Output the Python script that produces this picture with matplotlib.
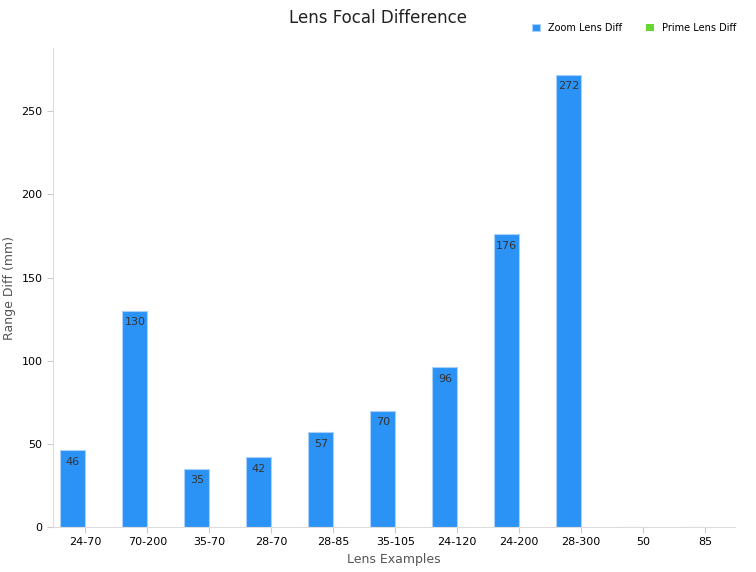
import matplotlib
matplotlib.use("Agg")
import matplotlib.pyplot as plt
import numpy as np

categories = ["24-70", "70-200", "35-70", "28-70", "28-85", "35-105", "24-120", "24-200", "28-300", "50", "85"]
zoom_diff = [46, 130, 35, 42, 57, 70, 96, 176, 272, 0, 0]
prime_diff = [0, 0, 0, 0, 0, 0, 0, 0, 0, 0, 0]

fig = plt.figure(figsize=(7.56, 5.72), dpi=100)
ax = fig.add_axes([53/756, 45/572, 682/756, 479/572])
x = np.arange(len(categories))
w = 0.4
zb = ax.bar(x - w/2, zoom_diff, w, color="#2b93f5", edgecolor="#a8d0fb", linewidth=0.8, label="Zoom Lens Diff")
ax.bar(x + w/2, prime_diff, w, color="#66d633", label="Prime Lens Diff")
for xi, v in zip(x, zoom_diff):
    if v > 0:
        ax.text(xi - w/2, v - 4, str(v), ha="center", va="top", fontsize=8, color="#333333")
ax.set_xticks(x)
ax.set_xticklabels(categories, fontsize=8)
ax.set_xlim(-0.52, 10.48)
ax.set_ylim(0, 288)
ax.set_yticks([0, 50, 100, 150, 200, 250])
ax.tick_params(axis="y", labelsize=8, length=4, color="#cccccc")
ax.tick_params(axis="x", length=4, color="#cccccc")
for s in ["top", "right"]:
    ax.spines[s].set_visible(False)
ax.spines["left"].set_color("#dddddd")
ax.spines["bottom"].set_color("#dddddd")
ax.set_xlabel("Lens Examples", fontsize=9, color="#555555")
ax.set_ylabel("Range Diff (mm)", fontsize=9, color="#555555")
fig.suptitle("Lens Focal Difference", y=0.985, fontsize=12, color="#222222")
fig.legend(loc="upper right", bbox_to_anchor=(0.985, 0.975), ncol=2, frameon=False, fontsize=7,
           handlelength=0.8, handleheight=0.8, columnspacing=2.5)
fig.savefig("out.png", dpi=100, facecolor="white")
